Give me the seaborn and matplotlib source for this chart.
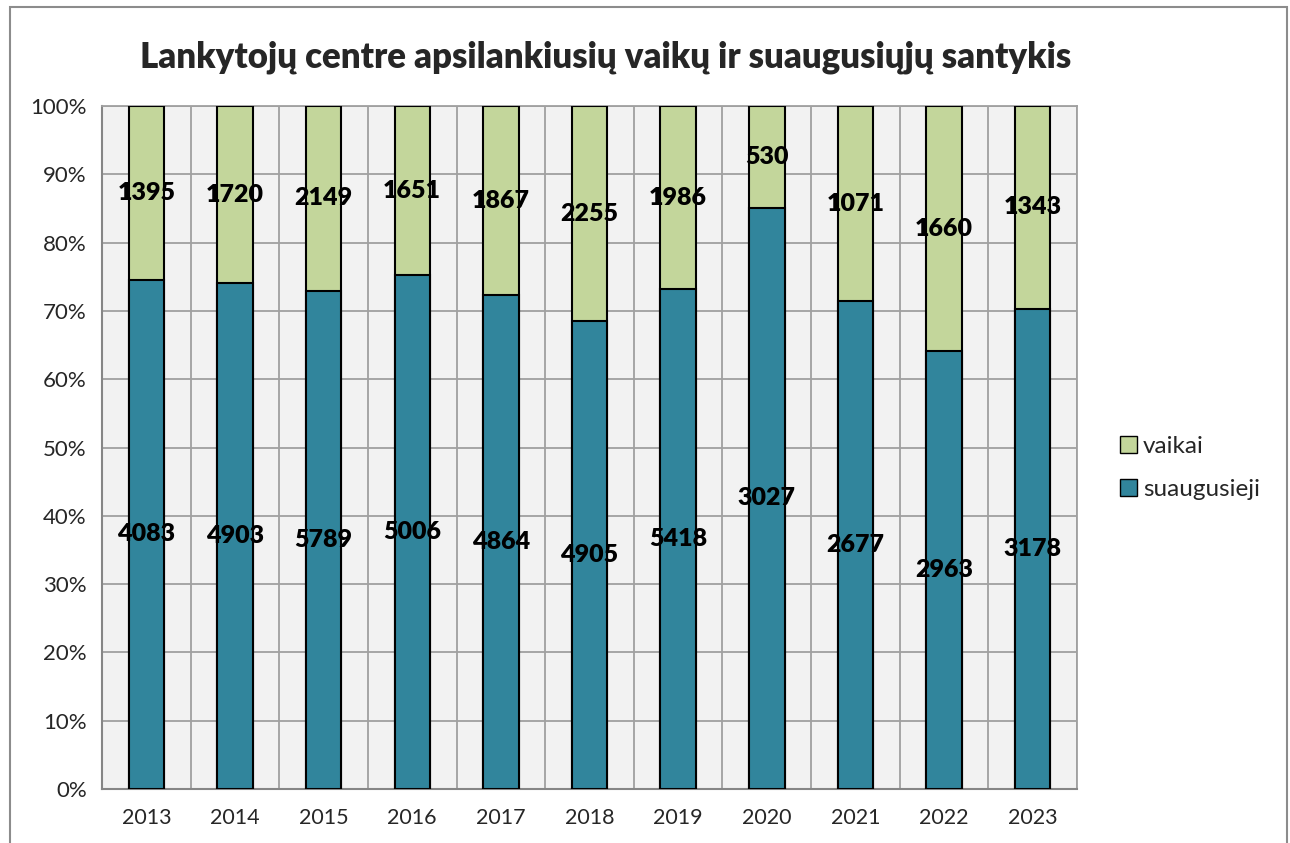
import matplotlib.pyplot as plt
import seaborn as sns
import pandas as pd
import numpy as np
from matplotlib.patches import Rectangle, Patch

years = ["2013", "2014", "2015", "2016", "2017", "2018", "2019", "2020", "2021", "2022", "2023"]
suaugusieji = [4083, 4903, 5789, 5006, 4864, 4905, 5418, 3027, 2677, 2963, 3178]
vaikai = [1395, 1720, 2149, 1651, 1867, 2255, 1986, 530, 1071, 1660, 1343]

teal = "#31859C"
green = "#C3D69B"

df = pd.DataFrame({"year": years, "adults": suaugusieji, "kids": vaikai})
df["total"] = df["adults"] + df["kids"]
df["adult_pct"] = df["adults"] / df["total"] * 100
df["total_pct"] = df["total"] / df["total"] * 100

sns.set_style("white")
plt.rcParams["font.family"] = ["Lato", "DejaVu Sans"]

fig = plt.figure(figsize=(12.9, 8.43), dpi=100)
ax = fig.add_axes([102 / 1290, 1 - 789 / 843, 975 / 1290, 683 / 843])
ax.set_facecolor("#F2F2F2")

sns.barplot(data=df, x="year", y="total_pct", color=green, width=0.4,
            edgecolor="black", linewidth=1.5, saturation=1, ax=ax, zorder=3)
sns.barplot(data=df, x="year", y="adult_pct", color=teal, width=0.4,
            edgecolor="black", linewidth=1.5, saturation=1, ax=ax, zorder=4)

# data labels in the middle of each segment
for i, row in df.iterrows():
    ax.text(i, row["adult_pct"] / 2, str(row["adults"]), ha="center", va="center",
            fontsize=18, fontweight="heavy", color="black", zorder=5)
    ax.text(i, (row["adult_pct"] + row["total_pct"]) / 2, str(row["kids"]), ha="center",
            va="center", fontsize=18, fontweight="heavy", color="black", zorder=5)

ax.set_xlim(-0.5, len(years) - 0.5)
ax.set_ylim(0, 100)
ax.set_yticks(np.arange(0, 101, 10))
ax.set_yticklabels([f"{v}%" for v in range(0, 101, 10)], fontsize=16)
ax.set_xticks(range(len(years)))
ax.set_xticklabels(years, fontsize=15.5)
ax.set_xticks(np.arange(-0.5, len(years), 1), minor=True)
ax.tick_params(axis="x", which="major", length=0, pad=14)
ax.tick_params(axis="x", which="minor", length=7, width=1.2, color="#868686", direction="out")
ax.tick_params(axis="y", length=7, width=1.2, color="#868686", direction="out", pad=4)
ax.set_xlabel("")
ax.set_ylabel("")

ax.grid(axis="y", color="#A0A0A0", linewidth=1.3, zorder=0)
ax.grid(axis="x", which="minor", color="#A0A0A0", linewidth=1.3, zorder=0)
ax.set_axisbelow(True)
for side in ["top", "right"]:
    ax.spines[side].set_color("#A0A0A0")
    ax.spines[side].set_linewidth(1.3)
for side in ["left", "bottom"]:
    ax.spines[side].set_color("#868686")
    ax.spines[side].set_linewidth(1.5)

fig.text(606 / 1290, 1 - 57 / 843, "Lankytojų centre apsilankiusių vaikų ir suaugusiųjų santykis",
         ha="center", va="center", fontsize=25, fontweight="heavy")

handles = [Patch(facecolor=green, edgecolor="black", label="vaikai"),
           Patch(facecolor=teal, edgecolor="black", label="suaugusieji")]
fig.legend(handles=handles, loc="center left", bbox_to_anchor=(1098 / 1290, 1 - 468 / 843),
           frameon=False, fontsize=17.5, handlelength=0.7, handleheight=0.7,
           handletextpad=0.25, labelspacing=0.9)

# outer chart frame
fig.patches.append(Rectangle((10 / 1290, -0.05), 1277 / 1290, 1.05 - 7 / 843,
                             transform=fig.transFigure, fill=False,
                             edgecolor="#8C8C8C", linewidth=1.5))

fig.savefig("out.png", dpi=100)
